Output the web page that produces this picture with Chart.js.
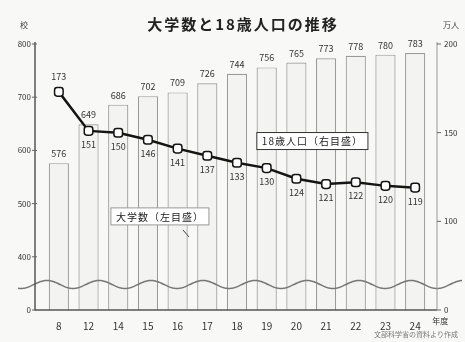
<!DOCTYPE html>
<html>
<head>
<meta charset="utf-8">
<script src="https://cdn.jsdelivr.net/npm/chart.js@4.4.1/dist/chart.umd.min.js"></script>
<style>
html, body { margin: 0; padding: 0; background: #f8f8f6; }
#wrap { width: 465px; height: 342px; }
</style>
</head>
<body>
<div id="wrap"><canvas id="chart"></canvas></div>
<script>
// 年度 (平成)
const years = ['8', '12', '14', '15', '16', '17', '18', '19', '20', '21', '22', '23', '24'];
// 大学数 (校) - 左目盛
const universities = [576, 649, 686, 702, 709, 726, 744, 756, 765, 773, 778, 780, 783];
// 18歳人口 (万人) - 右目盛
const population = [173, 151, 150, 146, 141, 137, 133, 130, 124, 121, 122, 120, 119];
// 目盛 (一番下は省略線の下で 0 と表示)
const leftTicks = [300, 400, 500, 600, 700, 800];
const rightTicks = [50, 100, 150, 200];

const FONT = '"Noto Sans CJK JP", sans-serif';

// 軸線・タイトル・ラベル・省略線など
const decoPlugin = {
    id: 'deco',
    afterDatasetsDraw(chart) {
        const { ctx, chartArea: a, scales } = chart;
        ctx.save();

        // 省略の波線
        const yWave = scales.y.getPixelForValue(348);
        ctx.strokeStyle = '#777';
        ctx.lineWidth = 1.5;
        ctx.beginPath();
        for (let x = 18; x <= 462; x++) {
            const y = yWave + 4 * Math.cos((x - 73) / 52 * Math.PI * 2);
            if (x === 18) ctx.moveTo(x, y); else ctx.lineTo(x, y);
        }
        ctx.stroke();

        // 軸線 (左・右・下)
        const lx = a.left - 9, rx = a.right + 7;
        ctx.strokeStyle = '#555';
        ctx.lineWidth = 1.5;
        ctx.beginPath();
        ctx.moveTo(lx, a.top - 2);
        ctx.lineTo(lx, a.bottom);
        ctx.lineTo(rx, a.bottom);
        ctx.stroke();
        ctx.strokeStyle = '#999';
        ctx.lineWidth = 1;
        ctx.beginPath();
        ctx.moveTo(rx, a.top - 2);
        ctx.lineTo(rx, a.bottom);
        ctx.stroke();
        ctx.strokeStyle = '#666';
        leftTicks.forEach(v => {
            const y = scales.y.getPixelForValue(v);
            ctx.beginPath(); ctx.moveTo(lx - 3, y); ctx.lineTo(lx + 2, y); ctx.stroke();
        });
        rightTicks.forEach(v => {
            const y = scales.y2.getPixelForValue(v);
            ctx.beginPath(); ctx.moveTo(rx, y); ctx.lineTo(rx + 4, y); ctx.stroke();
        });

        // 棒の数値
        ctx.fillStyle = '#333';
        ctx.font = '9px ' + FONT;
        ctx.textAlign = 'center';
        const bars = chart.getDatasetMeta(1);
        bars.data.forEach((el, i) => {
            ctx.fillText(universities[i], el.x, el.y - 6);
        });

        // 折れ線の数値
        const pts = chart.getDatasetMeta(0);
        pts.data.forEach((el, i) => {
            const dy = i === 0 ? -12 : 17;
            ctx.fillText(population[i], el.x, el.y + dy);
        });
        ctx.restore();
    },
    afterDraw(chart) {
        const { ctx, chartArea: a, scales } = chart;
        ctx.save();

        // タイトル
        ctx.fillStyle = '#222';
        ctx.font = 'bold 15px ' + FONT;
        ctx.letterSpacing = '2px';
        ctx.textAlign = 'center';
        ctx.fillText('大学数と18歳人口の推移', 243, 30);
        ctx.letterSpacing = '0px';

        // 単位
        ctx.font = '8px ' + FONT;
        ctx.fillStyle = '#444';
        ctx.fillText('校', 24, 28);
        ctx.fillText('万人', 451, 28);

        // 系列ラベル
        const box = (text, cx, cy, border) => {
            ctx.font = '10px ' + FONT;
            ctx.letterSpacing = '1px';
            const w = ctx.measureText(text).width + 10;
            ctx.fillStyle = '#fff';
            ctx.fillRect(cx - w / 2, cy - 9, w, 17);
            ctx.strokeStyle = border;
            ctx.lineWidth = 1;
            ctx.strokeRect(cx - w / 2, cy - 9, w, 17);
            ctx.fillStyle = '#222';
            ctx.textBaseline = 'middle';
            ctx.fillText(text, cx, cy);
            ctx.textBaseline = 'alphabetic';
            ctx.letterSpacing = '0px';
            return w;
        };
        const x = scales.x;
        box('18歳人口（右目盛）', x.getPixelForValue(8) + 16, scales.y2.getPixelForValue(145), '#333');
        const cx2 = x.getPixelForValue(3) + 12;
        const cy2 = scales.y.getPixelForValue(475);
        const w2 = box('大学数（左目盛）', cx2, cy2, '#999');
        ctx.strokeStyle = '#444';
        ctx.beginPath();
        ctx.moveTo(cx2 + w2 / 2 - 26, cy2 + 13);
        ctx.lineTo(cx2 + w2 / 2 - 20, cy2 + 20);
        ctx.stroke();

        // 年度
        ctx.font = '8px ' + FONT;
        ctx.fillStyle = '#333';
        ctx.fillText('年度', x.getPixelForValue(12) + 25, a.bottom + 14);

        // 出典
        ctx.font = '7px ' + FONT;
        ctx.fillStyle = '#777';
        ctx.textAlign = 'right';
        ctx.fillText('文部科学省の資料より作成', 458, 337);
        ctx.restore();
    }
};

new Chart(document.getElementById('chart'), {
    data: {
        labels: years,
        datasets: [{
            type: 'line',
            label: '18歳人口',
            data: population,
            yAxisID: 'y2',
            order: 0,
            borderColor: '#151515',
            borderWidth: 2.5,
            pointStyle: 'rectRounded',
            pointRadius: 5,
            pointBackgroundColor: '#fff',
            pointBorderColor: '#151515',
            pointBorderWidth: 1.5
        }, {
            type: 'bar',
            label: '大学数',
            data: universities,
            yAxisID: 'y',
            order: 1,
            backgroundColor: '#f3f3f1',
            borderColor: '#9a9a9a',
            borderWidth: 1.2,
            categoryPercentage: 0.8,
            barPercentage: 0.85
        }]
    },
    options: {
        responsive: true,
        maintainAspectRatio: false,
        animation: false,
        layout: { padding: { top: 44, bottom: 0, left: 0, right: 0 } },
        plugins: {
            legend: { display: false },
            tooltip: { enabled: false }
        },
        scales: {
            x: {
                grid: { display: false },
                border: { display: false },
                ticks: { color: '#333', font: { family: FONT, size: 10 }, padding: 2 },
                afterFit: s => { s.height = 32; }
            },
            y: {
                position: 'left',
                min: leftTicks[0],
                max: leftTicks[leftTicks.length - 1],
                afterBuildTicks: s => { s.ticks = leftTicks.map(v => ({ value: v })); },
                grid: { display: false },
                border: { display: false },
                ticks: {
                    color: '#333', font: { family: FONT, size: 8 }, padding: 5,
                    callback: v => v === leftTicks[0] ? '0' : v
                },
                afterFit: s => { s.width = 44; }
            },
            y2: {
                position: 'right',
                min: rightTicks[0],
                max: rightTicks[rightTicks.length - 1],
                afterBuildTicks: s => { s.ticks = rightTicks.map(v => ({ value: v })); },
                grid: { display: false },
                border: { display: false },
                ticks: {
                    color: '#333', font: { family: FONT, size: 8 }, padding: 6,
                    callback: v => v === rightTicks[0] ? '0' : v
                },
                afterFit: s => { s.width = 35; }
            }
        }
    },
    plugins: [decoPlugin]
});
</script>
</body>
</html>
